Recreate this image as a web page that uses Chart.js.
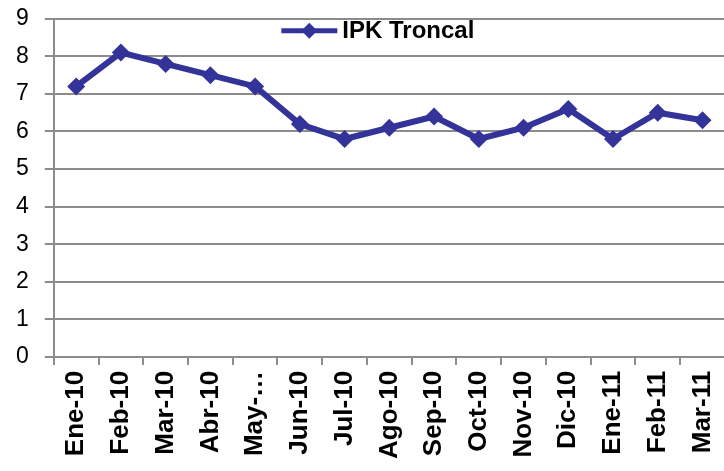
<!DOCTYPE html>
<html>
<head>
<meta charset="utf-8">
<script src="https://cdn.jsdelivr.net/npm/chart.js@4.4.1/dist/chart.umd.min.js"></script>
<style>
    html, body { margin: 0; padding: 0; background: #fff; overflow: hidden; }
    #marco { width: 724px; height: 471px; overflow: hidden; position: relative; }
    #wrap { width: 740px; height: 482px; position: absolute; left: 0; top: -11px; }
</style>
</head>
<body>
<div id="marco"><div id="wrap"><canvas id="ipk-chart"></canvas></div></div>
<script>
const meses = ["Ene-10", "Feb-10", "Mar-10", "Abr-10", "May-…", "Jun-10", "Jul-10", "Ago-10",
    "Sep-10", "Oct-10", "Nov-10", "Dic-10", "Ene-11", "Feb-11", "Mar-11"];
const ipkTroncal = [7.2, 8.1, 7.8, 7.5, 7.2, 6.2, 5.8, 6.1, 6.4, 5.8, 6.1, 6.6, 5.8, 6.5, 6.3];
const serieNombre = "IPK Troncal";

const azul = "#333399";
const gris = "#8c8c8c";

// leyenda dibujada a mano dentro del area del grafico (linea + rombo + texto)
const leyendaPlugin = {
    id: "leyendaArriba",
    afterDraw(chart) {
        const c = chart.ctx;
        const area = chart.chartArea;
        const cx = (area.left + area.right) / 2 - 80;
        const cy = area.top + 12;
        c.save();
        c.strokeStyle = azul;
        c.lineWidth = 5;
        c.beginPath();
        c.moveTo(cx - 28, cy);
        c.lineTo(cx + 28, cy);
        c.stroke();
        c.fillStyle = azul;
        c.beginPath();
        c.moveTo(cx, cy - 8);
        c.lineTo(cx + 8, cy);
        c.lineTo(cx, cy + 8);
        c.lineTo(cx - 8, cy);
        c.closePath();
        c.fill();
        c.fillStyle = "#000";
        c.font = "bold 24px 'Liberation Sans', Arial";
        c.textBaseline = "middle";
        c.textAlign = "left";
        c.fillText(chart.data.datasets[0].label, cx + 33, cy + 1);
        c.restore();
    },
};

const ctx = document.querySelector("#ipk-chart");

new Chart(ctx, {
    type: "line",
    data: {
        labels: meses,
        datasets: [
            {
                label: serieNombre,
                data: ipkTroncal,
                borderColor: azul,
                backgroundColor: azul,
                borderWidth: 6,
                pointStyle: "rectRot",
                pointRadius: 9,
                pointBorderWidth: 0,
                tension: 0,
            },
        ],
    },
    plugins: [leyendaPlugin],
    options: {
        responsive: true,
        maintainAspectRatio: false,
        animation: false,
        layout: { padding: { top: 0, right: 0, left: 0, bottom: 6 } },
        plugins: {
            tooltip: { enabled: false },
            legend: { display: false },
        },
        scales: {
            x: {
                offset: true,
                grid: {
                    offset: true,
                    drawOnChartArea: false,
                    drawTicks: true,
                    tickLength: 8,
                    color: gris,
                    lineWidth: 2,
                },
                border: { display: false },
                ticks: {
                    color: "#000",
                    minRotation: 90,
                    maxRotation: 90,
                    autoSkip: false,
                    padding: 6,
                    font: { family: "Liberation Sans, Arial", size: 26, weight: "bold" },
                },
            },
            y: {
                min: 0,
                max: 9,
                ticks: {
                    stepSize: 1,
                    color: "#000",
                    padding: 16,
                    font: { family: "Liberation Sans, Arial", size: 23 },
                },
                grid: {
                    color: gris,
                    lineWidth: 2,
                    tickLength: 9,
                },
                border: { color: gris, width: 2 },
            },
        },
    },
});
</script>
</body>
</html>
